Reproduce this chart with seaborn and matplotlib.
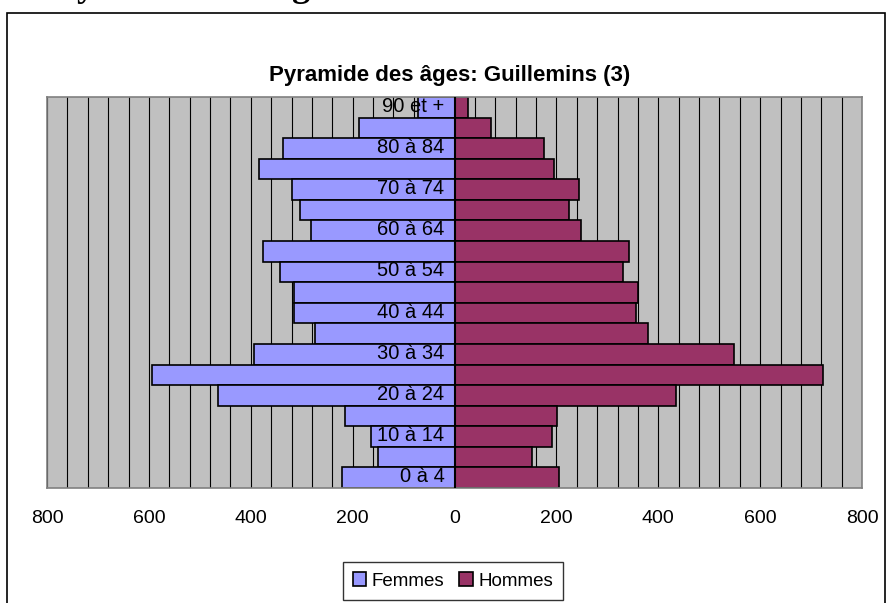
import pandas as pd
import seaborn as sns
import matplotlib.pyplot as plt
from matplotlib.patches import Rectangle

# Data, youngest to oldest
ages = ['0 à 4', '5 à 9', '10 à 14', '15 à 19', '20 à 24', '25 à 29', '30 à 34',
        '35 à 39', '40 à 44', '45 à 49', '50 à 54', '55 à 59', '60 à 64', '65 à 69',
        '70 à 74', '75 à 79', '80 à 84', '85 à 89', '90 et +']
femmes = [221, 150, 164, 214, 465, 593, 394, 274, 315, 315, 342, 375, 282, 304,
          319, 383, 337, 187, 72]
hommes = [206, 153, 192, 202, 435, 724, 548, 379, 356, 360, 330, 342, 248, 225,
          244, 195, 176, 71, 26]
shown_labels = ages[::2]

df = pd.concat([
    pd.DataFrame({'age': ages, 'valeur': [-v for v in femmes], 'sexe': 'Femmes'}),
    pd.DataFrame({'age': ages, 'valeur': hommes, 'sexe': 'Hommes'}),
])
order = ages[::-1]  # oldest at the top

sns.set_style('white')
plt.rcParams['font.family'] = ['Liberation Sans', 'DejaVu Sans']
plt.rcParams['text.color'] = 'black'
plt.rcParams['xtick.color'] = 'black'

fig = plt.figure(figsize=(8.9, 6.03), dpi=100)
ax = fig.add_axes([47 / 890, 115 / 603, 815 / 890, 391 / 603])
ax.set_facecolor('#C0C0C0')

sns.barplot(data=df, x='valeur', y='age', hue='sexe', order=order,
            palette={'Femmes': '#9999FF', 'Hommes': '#993366'}, saturation=1,
            dodge=False, width=1, edgecolor='black', linewidth=1.2, ax=ax)

# Grid and axes
ax.set_xlim(-800, 800)
ax.set_ylim(len(order) - 0.5, -0.5)
ax.set_xticks(range(-800, 801, 200))
ax.set_xticklabels([str(abs(v)) for v in range(-800, 801, 200)], fontsize=14)
ax.set_xticks(range(-800, 801, 40), minor=True)
ax.grid(which='both', axis='x', color='black', linewidth=0.8)
ax.set_axisbelow(True)
ax.tick_params(axis='x', which='major', length=6, color='#808080', pad=10)
ax.tick_params(axis='x', which='minor', length=0)
ax.set_yticks([])
ax.set_xlabel('')
ax.set_ylabel('')
for s in ax.spines.values():
    s.set_color('#808080')
    s.set_linewidth(1.2)
ax.axvline(0, color='black', linewidth=1.5, zorder=3)

# Category labels drawn at the vertical axis (x = 0)
for i, a in enumerate(order):
    if a in shown_labels:
        ax.annotate(a, xy=(0, i), xytext=(-10, 1), textcoords='offset pixels',
                    ha='right', va='center', fontsize=14.5, zorder=5)

# Legend
handles, labels = ax.get_legend_handles_labels()
ax.get_legend().remove()
leg = fig.legend(handles, labels, loc='center', bbox_to_anchor=(453 / 890, 1 - 581 / 603),
                 ncol=2, fontsize=13.5, frameon=True, fancybox=False, edgecolor='black',
                 handlelength=0.7, handleheight=0.7, handletextpad=0.3, columnspacing=0.8,
                 borderpad=0.55)
leg.get_frame().set_linewidth(1)

# Title
fig.text(450 / 890, 1 - 75 / 603, 'Pyramide des âges: Guillemins (3)',
         ha='center', va='center', fontsize=16, fontweight='bold')

# Chart frame and the cut-off document heading above it
fig.patches.append(Rectangle((7 / 890, -0.05), 878 / 890, 1.05 - 13 / 603,
                             transform=fig.transFigure, fill=False,
                             edgecolor='black', linewidth=1.2))
fig.text(55 / 890, 1 + 4 / 603, 'Pyramide des âges', ha='left', va='baseline',
         fontsize=26, fontweight='bold', family='Liberation Serif')

fig.savefig('out.png', dpi=100)
